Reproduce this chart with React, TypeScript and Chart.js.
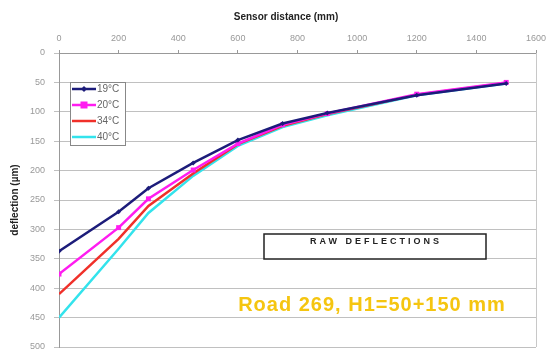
import React, { useEffect, useRef } from "react";
import { Chart, registerables } from "chart.js";

Chart.register(...registerables);

const distances = [0, 200, 300, 450, 600, 750, 900, 1200, 1500];
const t19 = [337, 270, 230, 187, 148, 120, 102, 72, 52];
const t20 = [376, 297, 248, 199, 154, 122, 103, 70, 50];
const t34 = [410, 316, 260, 205, 155, 124, 104, 71, 51];
const t40 = [450, 333, 272, 209, 158, 126, 106, 72, 52];
const seriesNames = ["19°C", "20°C", "34°C", "40°C"];
const seriesColors = ["#1c1c7a", "#ff1cf0", "#f0302a", "#33e3ec"];

const xTitle = "Sensor distance (mm)";
const yTitle = "deflection (µm)";
const boxText = "RAW DEFLECTIONS";
const roadText = "Road 269, H1=50+150 mm";

const FONT = "'Liberation Sans', Arial, sans-serif";

const overlay = {
  id: "overlay",
  afterDraw(chart: any) {
    const ctx = chart.ctx;
    const ca = chart.chartArea;
    ctx.save();
    // right border
    ctx.strokeStyle = "#c8c8c8";
    ctx.lineWidth = 1;
    ctx.beginPath();
    ctx.moveTo(ca.right + 0.5, ca.top);
    ctx.lineTo(ca.right + 0.5, ca.bottom);
    ctx.stroke();

    // titles
    ctx.fillStyle = "#222";
    ctx.font = `bold 10px ${FONT}`;
    ctx.textAlign = "center";
    ctx.textBaseline = "middle";
    ctx.fillText(xTitle, 286, 17);
    ctx.save();
    ctx.translate(15, 200);
    ctx.rotate(-Math.PI / 2);
    ctx.fillText(yTitle, 0, 0);
    ctx.restore();

    // legend
    ctx.fillStyle = "#fff";
    ctx.fillRect(70, 82, 55, 63);
    ctx.strokeStyle = "#888";
    ctx.strokeRect(70.5, 82.5, 55, 63);
    const rows = [89, 105, 121, 137];
    chart.data.datasets.forEach((ds: any, i: number) => {
      const y = rows[i];
      ctx.strokeStyle = ds.borderColor;
      ctx.lineWidth = 2.5;
      ctx.beginPath();
      ctx.moveTo(72, y);
      ctx.lineTo(96, y);
      ctx.stroke();
      if (ds.pointRadius > 0) {
        ctx.fillStyle = ds.borderColor;
        if (ds.pointStyle === "rect") {
          const r = ds.pointRadius;
          ctx.fillRect(84 - r, y - r, 2 * r, 2 * r);
        } else {
          const r = ds.pointRadius + 0.5;
          ctx.beginPath();
          ctx.moveTo(84, y - r);
          ctx.lineTo(84 + r, y);
          ctx.lineTo(84, y + r);
          ctx.lineTo(84 - r, y);
          ctx.closePath();
          ctx.fill();
        }
      }
      ctx.fillStyle = "#666";
      ctx.font = `10px ${FONT}`;
      ctx.textAlign = "left";
      ctx.fillText(ds.label, 97, y + 0.5);
    });

    // raw deflections box
    ctx.fillStyle = "#fff";
    ctx.fillRect(264, 234, 222, 25);
    ctx.strokeStyle = "#222";
    ctx.lineWidth = 1.5;
    ctx.strokeRect(264, 234, 222, 25);
    ctx.fillStyle = "#222";
    ctx.font = `bold 9px ${FONT}`;
    (ctx as any).letterSpacing = "3px";
    ctx.textAlign = "center";
    ctx.fillText(boxText, 376, 242);
    (ctx as any).letterSpacing = "0px";

    // road text
    ctx.fillStyle = "#f5c510";
    ctx.font = `bold 20px ${FONT}`;
    (ctx as any).letterSpacing = "1px";
    ctx.textAlign = "center";
    ctx.fillText(roadText, 372, 305);
    (ctx as any).letterSpacing = "0px";
    ctx.restore();
  },
};

export default function App() {
  const ref = useRef<HTMLCanvasElement>(null);
  useEffect(() => {
    if (!ref.current) return;
    const all = [t19, t20, t34, t40];
    const chart = new Chart(ref.current, {
      type: "line",
      data: {
        datasets: all.map((vals, i) => ({
          label: seriesNames[i],
          data: distances.map((d, j) => ({ x: d, y: vals[j] })),
          borderColor: seriesColors[i],
          backgroundColor: seriesColors[i],
          borderWidth: 2.5,
          pointRadius: i === 0 ? 2.5 : i === 1 ? 3.5 : 0,
          pointStyle: i === 0 ? "rectRot" : "rect",
          pointBorderWidth: 0,
          tension: 0,
        })),
      },
      options: {
        responsive: false,
        animation: false,
        layout: { padding: { left: 0, top: 0, right: 11, bottom: 4 } },
        plugins: { legend: { display: false }, tooltip: { enabled: false } },
        scales: {
          x: {
            type: "linear",
            position: "top",
            min: 0,
            max: 1600,
            ticks: {
              stepSize: 200,
              color: "#999",
              font: { size: 9, family: FONT },
              padding: 6,
              maxRotation: 0,
              callback: (v: any) => String(v),
            },
            grid: {
              drawOnChartArea: false,
              drawTicks: true,
              tickLength: 3,
              color: "#999",
            },
            border: { color: "#999" },
            afterFit: (s: any) => {
              s.height = 53;
              s.paddingLeft = 0;
              s.paddingRight = 0;
            },
          },
          y: {
            reverse: true,
            min: 0,
            max: 500,
            ticks: {
              stepSize: 50,
              color: "#999",
              font: { size: 9, family: FONT },
              padding: 9,
              callback: (v: any) => String(v),
            },
            grid: { color: "#c0c0c0", tickLength: 5 },
            border: { color: "#999" },
            afterFit: (s: any) => {
              s.width = 59;
              s.paddingTop = 0;
              s.paddingBottom = 0;
            },
          },
        },
      },
      plugins: [overlay],
    });
    return () => chart.destroy();
  }, []);
  return (
    <div style={{ position: "fixed", left: 0, top: 0, width: 547, height: 351, background: "#fff" }}>
      <canvas ref={ref} width={547} height={351} style={{ display: "block" }} />
    </div>
  );
}
